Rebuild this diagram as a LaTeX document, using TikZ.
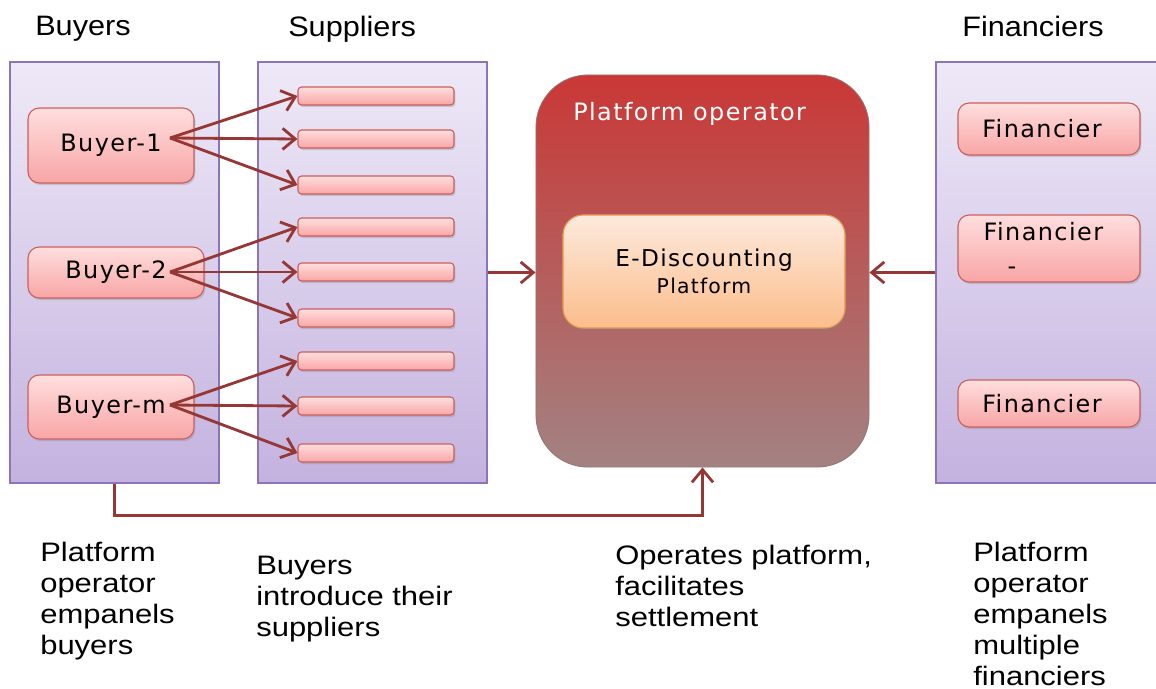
\documentclass[tikz,border=0pt]{standalone}
\usepackage{fontspec}
\setmainfont{Liberation Sans}
\newfontfamily\boxfont[LetterSpace=6]{DejaVu Sans}
\newfontfamily\notefont[FakeStretch=1.16]{Liberation Sans}
\newfontfamily\headfont[FakeStretch=1.09]{Liberation Sans}
\usetikzlibrary{arrows.meta,shadows}

\definecolor{panelTop}{HTML}{EEE9F7}
\definecolor{panelBot}{HTML}{C4B2DF}
\definecolor{panelLine}{HTML}{8C74B8}
\definecolor{pinkTop}{HTML}{FFDEDE}
\definecolor{pinkBot}{HTML}{F8A5A5}
\definecolor{pinkLine}{HTML}{C8605E}
\definecolor{opTop}{HTML}{C93836}
\definecolor{opBot}{HTML}{A38282}
\definecolor{orTop}{HTML}{FDEADC}
\definecolor{orBot}{HTML}{FBBD8C}
\definecolor{orLine}{HTML}{E8964E}
\definecolor{flowRed}{HTML}{953735}

\begin{document}
\begin{tikzpicture}[x=0.025cm,y=-0.025cm,
  panel/.style={draw=panelLine,line width=1pt,top color=panelTop,bottom color=panelBot,
    minimum height=10.525cm,inner sep=0pt,
    drop shadow={opacity=0.25,shadow xshift=1pt,shadow yshift=-1pt}},
  pinkbox/.style={draw=pinkLine,line width=0.8pt,top color=pinkTop,bottom color=pinkBot,
    rounded corners=8pt,inner sep=0pt,font=\boxfont\fontsize{17}{24}\selectfont,
    drop shadow={opacity=0.3,shadow xshift=1pt,shadow yshift=-1.5pt}},
  bar/.style={pinkbox,rounded corners=2.5pt,minimum width=3.9cm,minimum height=0.45cm},
  flow/.style={draw=flowRed,line width=2pt,-{Straight Barb[length=9pt,width=15pt,line width=2pt]}},
  header/.style={anchor=base west,inner sep=0pt,font=\headfont\fontsize{20}{24}\selectfont},
  note/.style={anchor=north west,inner sep=0pt,align=left,font=\notefont\fontsize{19}{22}\selectfont}]

  \useasboundingbox (0,0) rectangle (1156,689);

  % panels
  \node[panel,minimum width=5.225cm] (buyers) at (114.5,272.5) {};
  \node[panel,minimum width=5.725cm] (suppliers) at (372.5,272.5) {};
  \node[panel,minimum width=5.6cm] (financiers) at (1048,272.5) {};

  \node[header] at (35,36) {Buyers};
  \node[header] at (288,37) {Suppliers};
  \node[header] at (962,37) {Financiers};

  % buyers
  \node[pinkbox,minimum width=4.15cm,minimum height=1.875cm] (b1) at (111,145.5) {Buyer-1};
  \node[pinkbox,minimum width=4.4cm,minimum height=1.275cm] (b2) at (116,272.5) {Buyer-2};
  \node[pinkbox,minimum width=4.15cm,minimum height=1.6cm] (bm) at (111,407) {Buyer-m};

  % suppliers
  \foreach \y [count=\i] in {96,139,185,227,272,318,361,406,453}
    \node[bar] (s\i) at (376,\y) {};

  \coordinate (b1o) at (170,138);
  \coordinate (b2o) at (170,272);
  \coordinate (bmo) at (170,405);
  \foreach \i in {1,2,3} \draw[flow] (b1o) -- (s\i.west);
  \foreach \i in {4,5,6} \draw[flow] (b2o) -- (s\i.west);
  \foreach \i in {7,8,9} \draw[flow] (bmo) -- (s\i.west);

  % platform operator
  \node[rounded corners=1.3cm,top color=opTop,bottom color=opBot,draw=opBot!90!black,line width=0.6pt,
    minimum width=8.325cm,minimum height=9.8cm] (op) at (702.5,271) {};
  \node[anchor=west,inner sep=0pt,text=white,font=\boxfont\fontsize{17}{20}\selectfont]
    (optitle) at (573,114) {Platform operator};
  \node[draw=orLine,line width=0.8pt,top color=orTop,bottom color=orBot,rounded corners=0.5cm,
    minimum width=7.05cm,minimum height=2.825cm,align=center,
    drop shadow={opacity=0.35,shadow xshift=1pt,shadow yshift=-2pt}]
    (edp) at (704,271.5) {\boxfont\fontsize{16.5}{21}\selectfont E-Discounting\\[4pt]
      \boxfont\fontsize{14.5}{21}\selectfont Platform};

  % financiers
  \node[pinkbox,minimum width=4.55cm,minimum height=1.3cm] (f1) at (1049,129) {Financier\hspace*{10pt}};
  \node[pinkbox,minimum width=4.55cm,minimum height=1.675cm,align=center] (f2) at (1049,248.5)
    {Financier\hspace*{8pt}\\\hspace*{-3.1em}-};
  \node[pinkbox,minimum width=4.55cm,minimum height=1.175cm] (f3) at (1049,403.5) {Financier\hspace*{10pt}};

  % flows into the platform
  \draw[flow] (suppliers.east) -- (suppliers.east -| op.west);
  \draw[flow] (financiers.west) -- (financiers.west -| op.east);
  \draw[flow] (buyers.south) -- ++(0,32) -| (op.south);

  % notes
  \node[note] at (40,542) {Platform\\operator\\empanels\\buyers};
  \node[note] at (256,556) {Buyers\\introduce their\\suppliers};
  \node[note] at (615,545) {Operates platform,\\facilitates\\settlement};
  \node[note] at (973,542) {Platform\\operator\\empanels\\multiple\\financiers};
\end{tikzpicture}
\end{document}
